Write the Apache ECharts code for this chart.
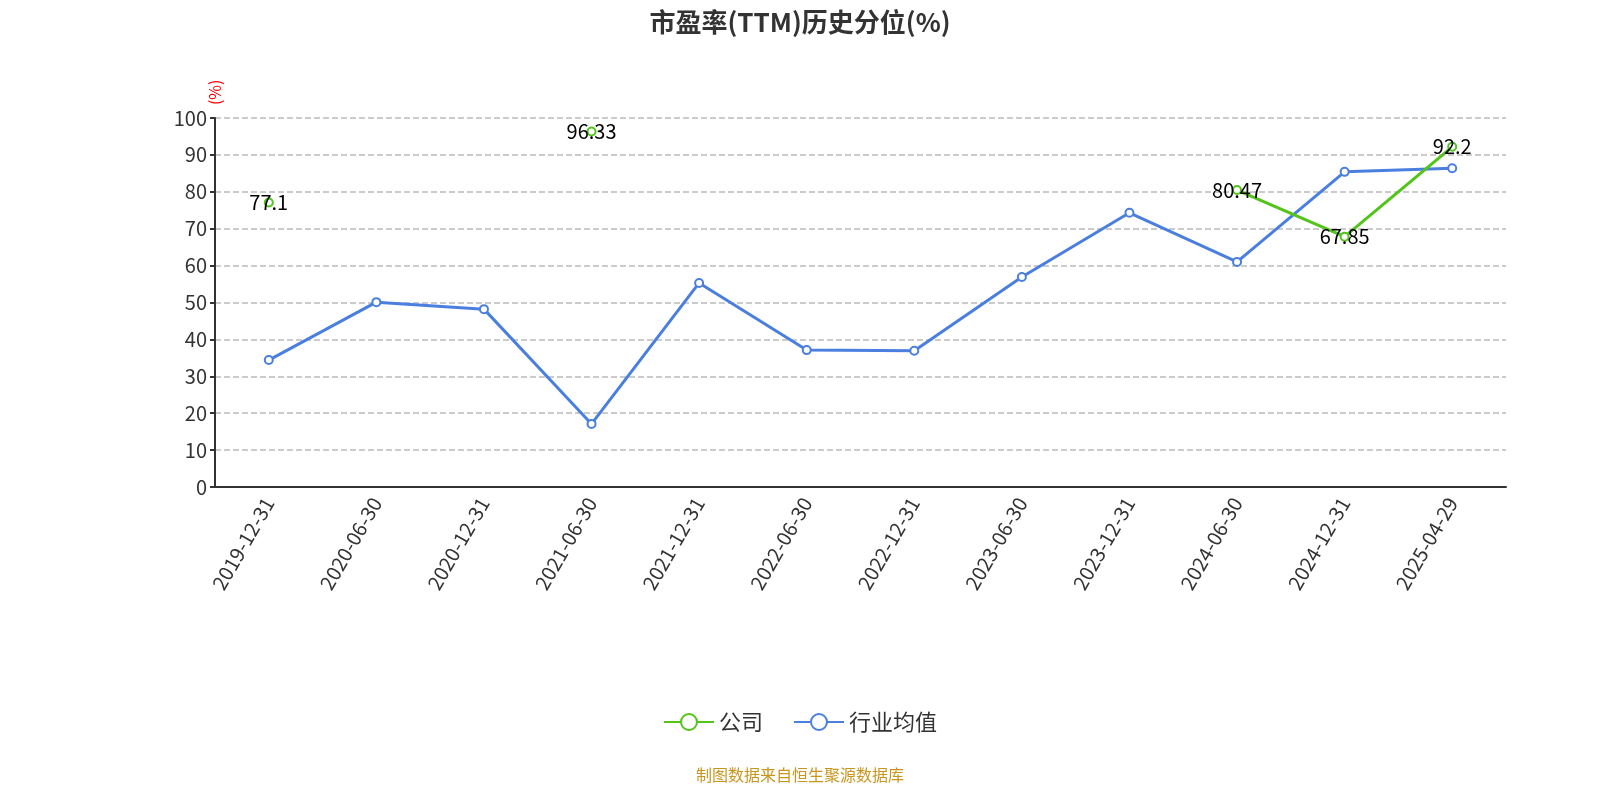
<!DOCTYPE html>
<html lang="en">
<head>
<meta charset="utf-8">
<style>
body { margin: 0; background: #fff }
#echarts { width: 1600px; height: 800px; }
</style>
</head>
<body>
<div id="echarts"></div>
<script src="https://cdn.jsdelivr.net/npm/echarts@6/dist/echarts.min.js"></script>
<script>
var categories = ['2019-12-31', '2020-06-30', '2020-12-31', '2021-06-30', '2021-12-31', '2022-06-30',
    '2022-12-31', '2023-06-30', '2023-12-31', '2024-06-30', '2024-12-31', '2025-04-29'];
var companyValues = [77.1, null, null, 96.33, null, null, null, null, null, 80.47, 67.85, 92.2];
var industryValues = [34.4, 50.1, 48.2, 17.1, 55.3, 37.1, 36.9, 56.9, 74.3, 61.0, 85.4, 86.4];

var myEcharts = echarts.init(document.getElementById('echarts'));
var option = {
    textStyle: { fontFamily: 'Noto Sans CJK SC' },
    title: [{
        text: '市盈率(TTM)历史分位(%)',
        left: 'center',
        top: 4,
        textStyle: { fontSize: 26, fontWeight: 'bold', color: '#333' }
    }, {
        text: '制图数据来自恒生聚源数据库',
        left: 'center',
        top: 762,
        textStyle: { fontSize: 16, fontWeight: 'normal', color: '#c8961e' }
    }],
    legend: {
        bottom: 62,
        itemWidth: 50,
        itemHeight: 20,
        itemGap: 30,
        textStyle: { fontSize: 22, color: '#333' },
        data: ['公司', '行业均值']
    },
    grid: { left: 215, right: 94, top: 118, bottom: 313, containLabel: false, outerBoundsMode: 'none' },
    xAxis: {
        type: 'category',
        data: categories,
        axisLine: { lineStyle: { color: '#333', width: 2 } },
        axisTick: { lineStyle: { width: 2 } },
        axisLabel: { rotate: 60, fontSize: 20, color: '#333', interval: 0, margin: 12 }
    },
    yAxis: {
        type: 'value',
        min: 0,
        max: 100,
        interval: 10,
        name: '(%)',
        nameLocation: 'end',
        nameGap: -45,
        nameRotate: 90,
        nameTextStyle: { color: 'red', fontSize: 16, padding: [0, 0, 120, 0] },
        axisLine: { show: true, lineStyle: { color: '#333', width: 2 } },
        axisTick: { show: true, lineStyle: { width: 2 } },
        axisLabel: { fontSize: 20, color: '#333' },
        splitLine: { lineStyle: { type: 'dashed', color: '#bbb', width: 1.5 } }
    },
    series: [{
        name: '公司',
        type: 'line',
        data: companyValues,
        connectNulls: false,
        symbol: 'emptyCircle',
        symbolSize: 8,
        itemStyle: { color: '#52c41a', borderColor: '#52c41a', borderWidth: 2 },
        lineStyle: { width: 3, color: '#52c41a' },
        label: { show: true, fontSize: 20, color: '#000', position: 'inside' },
        z: 3
    }, {
        name: '行业均值',
        type: 'line',
        data: industryValues,
        symbol: 'emptyCircle',
        symbolSize: 8,
        itemStyle: { color: '#4a7fe0', borderWidth: 2 },
        lineStyle: { width: 3, color: '#4a7fe0' },
        z: 2
    }]
};
myEcharts.setOption(option);
</script>
</body>
</html>
